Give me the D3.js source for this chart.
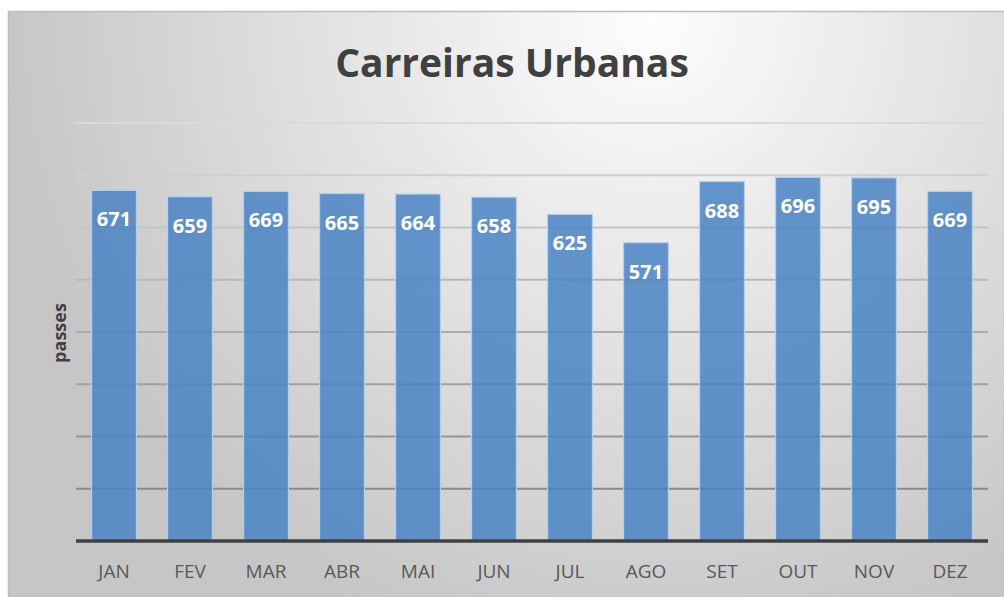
<!DOCTYPE html>
<html><head><meta charset="utf-8">
<script src="https://cdn.jsdelivr.net/npm/d3@7/dist/d3.min.js"></script>
<style>html,body{margin:0;padding:0;background:#fff;}</style>
</head><body>
<script>
const months = ["JAN","FEV","MAR","ABR","MAI","JUN","JUL","AGO","SET","OUT","NOV","DEZ"];
const passes = [671,659,669,665,664,658,625,571,688,696,695,669];
const gridTicks = [100,200,300,400,500,600,700,800];
const title = "Carreiras Urbanas";
const yTitle = "passes";

const W = 1004, H = 597;
const svg = d3.select("body").append("svg").attr("width", W).attr("height", H);
const defs = svg.append("defs");
const rg = defs.append("radialGradient").attr("id","bg")
  .attr("gradientUnits","userSpaceOnUse").attr("cx",650).attr("cy",20).attr("r",650);
rg.append("stop").attr("offset","0").attr("stop-color","#fdfdfd");
rg.append("stop").attr("offset","0.5").attr("stop-color","#e2e2e2");
rg.append("stop").attr("offset","1").attr("stop-color","#c6c6c6");

svg.append("rect").attr("x",8.5).attr("y",11.5).attr("width",W-8).attr("height",H-11)
  .attr("fill","url(#bg)").attr("stroke","#bdbdbd").attr("stroke-width",1.5);

const x0 = 76, x1 = 988, yb = 541, yt = 123;
const x = d3.scaleBand().domain(months).range([x0,x1]).paddingInner(0.41).paddingOuter(0.205);
const y = d3.scaleLinear().domain([0,800]).range([yb,yt]);
const gridCol = d3.scaleLinear().domain([800,100]).range(["#dadada","#8a8a8a"]);

svg.append("g").selectAll("line").data(gridTicks).join("line")
  .attr("x1",x0).attr("x2",x1).attr("y1",d=>y(d)).attr("y2",d=>y(d))
  .attr("stroke",d=>gridCol(d)).attr("stroke-width",2);

svg.append("g").selectAll("rect").data(passes).join("rect")
  .attr("x",(d,i)=>x(months[i])).attr("width",x.bandwidth())
  .attr("y",d=>y(d)).attr("height",d=>yb-y(d))
  .attr("fill","#4a82c4").attr("fill-opacity",0.85)
  .attr("stroke","#b4cdea").attr("stroke-width",1.2);

svg.append("line").attr("x1",x0).attr("x2",x1).attr("y1",yb).attr("y2",yb)
  .attr("stroke","#404040").attr("stroke-width",3.5);

svg.append("g").selectAll("text").data(passes).join("text")
  .attr("x",(d,i)=>x(months[i])+x.bandwidth()/2).attr("y",d=>y(d)+36)
  .attr("text-anchor","middle").attr("fill","#fff")
  .attr("font-family","Open Sans, sans-serif").attr("font-weight","bold").attr("font-size",20)
  .text(d=>d);

const xAxis = svg.append("g").attr("transform",`translate(0,${yb})`)
  .call(d3.axisBottom(x).tickSize(0).tickPadding(24));
xAxis.select(".domain").remove();
xAxis.selectAll("text").attr("font-family","Open Sans, sans-serif").attr("font-size",19)
  .attr("fill","#595959");

svg.append("text").attr("transform","translate(66,333) rotate(-90)")
  .attr("text-anchor","middle").attr("font-family","Open Sans, sans-serif")
  .attr("font-weight","bold").attr("font-size",18).attr("fill","#404040").text(yTitle);

svg.append("text").attr("x",512).attr("y",77).attr("text-anchor","middle")
  .attr("font-family","Open Sans, sans-serif").attr("font-weight","bold")
  .attr("font-size",39).attr("fill","#404040").text(title);
</script>
</body></html>
